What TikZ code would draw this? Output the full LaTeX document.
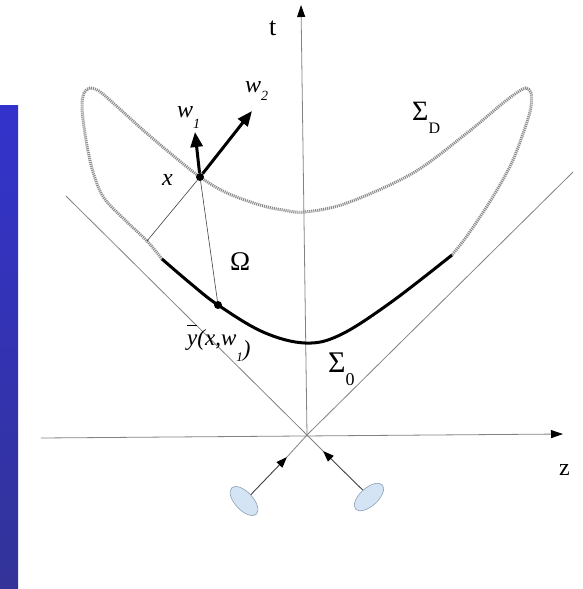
\documentclass[tikz,border=0pt]{standalone}
\usepackage{fontspec}
\setmainfont{Liberation Serif}
\usetikzlibrary{arrows.meta,shapes.geometric}
\definecolor{bartop}{RGB}{51,51,204}
\definecolor{barbot}{RGB}{51,51,153}
\definecolor{axisgray}{RGB}{130,130,130}
\definecolor{dotgray}{RGB}{140,140,140}
\definecolor{detfill}{RGB}{212,228,244}
\definecolor{detdraw}{RGB}{140,160,180}
\newcommand{\fsz}[1]{\fontsize{#1}{#1}\selectfont}
\tikzset{
  axisline/.style={draw=axisgray, line width=0.8pt},
  axisarrow/.style={axisline, -{Triangle[length=12pt,width=8pt,color=black]}},
  conearrow/.style={draw=black!75, line width=0.9pt, -{Triangle[length=11pt,width=8pt,color=black]}},
  warrow/.style={draw=black, line width=3pt, -{Triangle[length=15pt,width=12pt]}},
  thinline/.style={draw=black!75, line width=0.6pt},
  dotcurve/.style={draw=dotgray, line width=3pt, dash pattern=on 1.1pt off 0.9pt},
  solidcurve/.style={draw=black, line width=3pt},
  dot/.style={circle, fill=black, minimum size=8pt, inner sep=0pt},
  detector/.style={ellipse, draw=detdraw, fill=detfill, line width=0.6pt, minimum width=36pt, minimum height=18pt, inner sep=0pt},
  lbl/.style={inner sep=0pt, anchor=base west},
}
\begin{document}
\begin{tikzpicture}[x=1pt,y=-1pt]
\useasboundingbox (0,0) rectangle (583,589);
% side bar
\shade[top color=bartop, bottom color=barbot] (0,105) rectangle (18,589);
% coordinates
\coordinate (O) at (307,435);
\coordinate (CL) at (66,196);
\coordinate (CR) at (573,172);
\coordinate (TL) at (287,457);
\coordinate (TR) at (323,451);
\coordinate (ZL) at (41,438);
\coordinate (ZR) at (563,434);
\coordinate (TT) at (301,5);
\coordinate (P) at (147,241);
\coordinate (W1) at (195,132);
\coordinate (W2) at (252,111);
% axes and light cone
\draw[axisline] (CL) -- (O) -- (TR);
\draw[axisline] (CR) -- (O) -- (TL);
\draw[axisarrow] (ZL) -- (ZR);
\draw[axisarrow] (O) -- (TT);
% detectors
\node[detector, rotate=-47] (E1) at (244,501) {};
\node[detector, rotate=42] (E2) at (369,497) {};
\draw[conearrow] (E1.north) -- (TL);
\draw[conearrow] (E2.north) -- (TR);
% Sigma_D (dotted)
\draw[dotcurve] plot[smooth, tension=0.55] coordinates {
 (162,259) (147,241) (126,221) (104,198) (93,172) (86,140) (82,108) (84,93) (90,88) (99,91)
 (112,102) (143,130) (170,153) (200,177) (227,193) (260,205) (283,210) (305,212)
 (347,203) (413,173) (467,133) (503,103) (518,92) (526,88) (531,93) (531,106)
 (527,122) (513,160) (497,190) (480,217) (464,240) (452,255)};
% Sigma_0 (solid)
\draw[solidcurve] plot[smooth, tension=0.6] coordinates {
 (162,259) (190,283) (218,305) (263,332) (305,343) (340,335) (390,303) (452,255)};
% points
\node[dot] (X) at (200,177) {};
\node[dot] (Y) at (218,305) {};
\draw[thinline] (X) -- (P);
\draw[thinline] (X) -- (Y);
\draw[warrow] (X) -- (W1);
\draw[warrow] (X) -- (W2);
% labels
\node[lbl, font=\fsz{26}] (tlab) at (269,35) {t};
\node[lbl, font=\fsz{24}] (zlab) at (559,475) {z};
\node[lbl, font=\fsz{24}\itshape] (w1lab) at (177,117) {w\raisebox{-11pt}{\fsz{14}1}};
\node[lbl, font=\fsz{24}\itshape] (w2lab) at (245,92) {w\raisebox{-8pt}{\fsz{14}2}};
\node[lbl, font=\fsz{24}\itshape] (xlab) at (162,185) {x};
\node[lbl, font=\fsz{27}] (omega) at (230,270) {Ω};
\node[lbl, font=\fsz{28}] (sigD) at (412,120) {Σ\raisebox{-13pt}{\fsz{16}D}};
\node[lbl, font=\fsz{30}] (sig0) at (328,372) {Σ\raisebox{-13pt}{\fsz{18}0}};
\node[lbl, font=\fsz{23}\itshape] (ylab) at (187,345) {\rlap{\rule[19pt]{10pt}{0.7pt}}y(x,w\raisebox{-16pt}{\fsz{13}1}\raisebox{-11pt}{)}};
\end{tikzpicture}
\end{document}
